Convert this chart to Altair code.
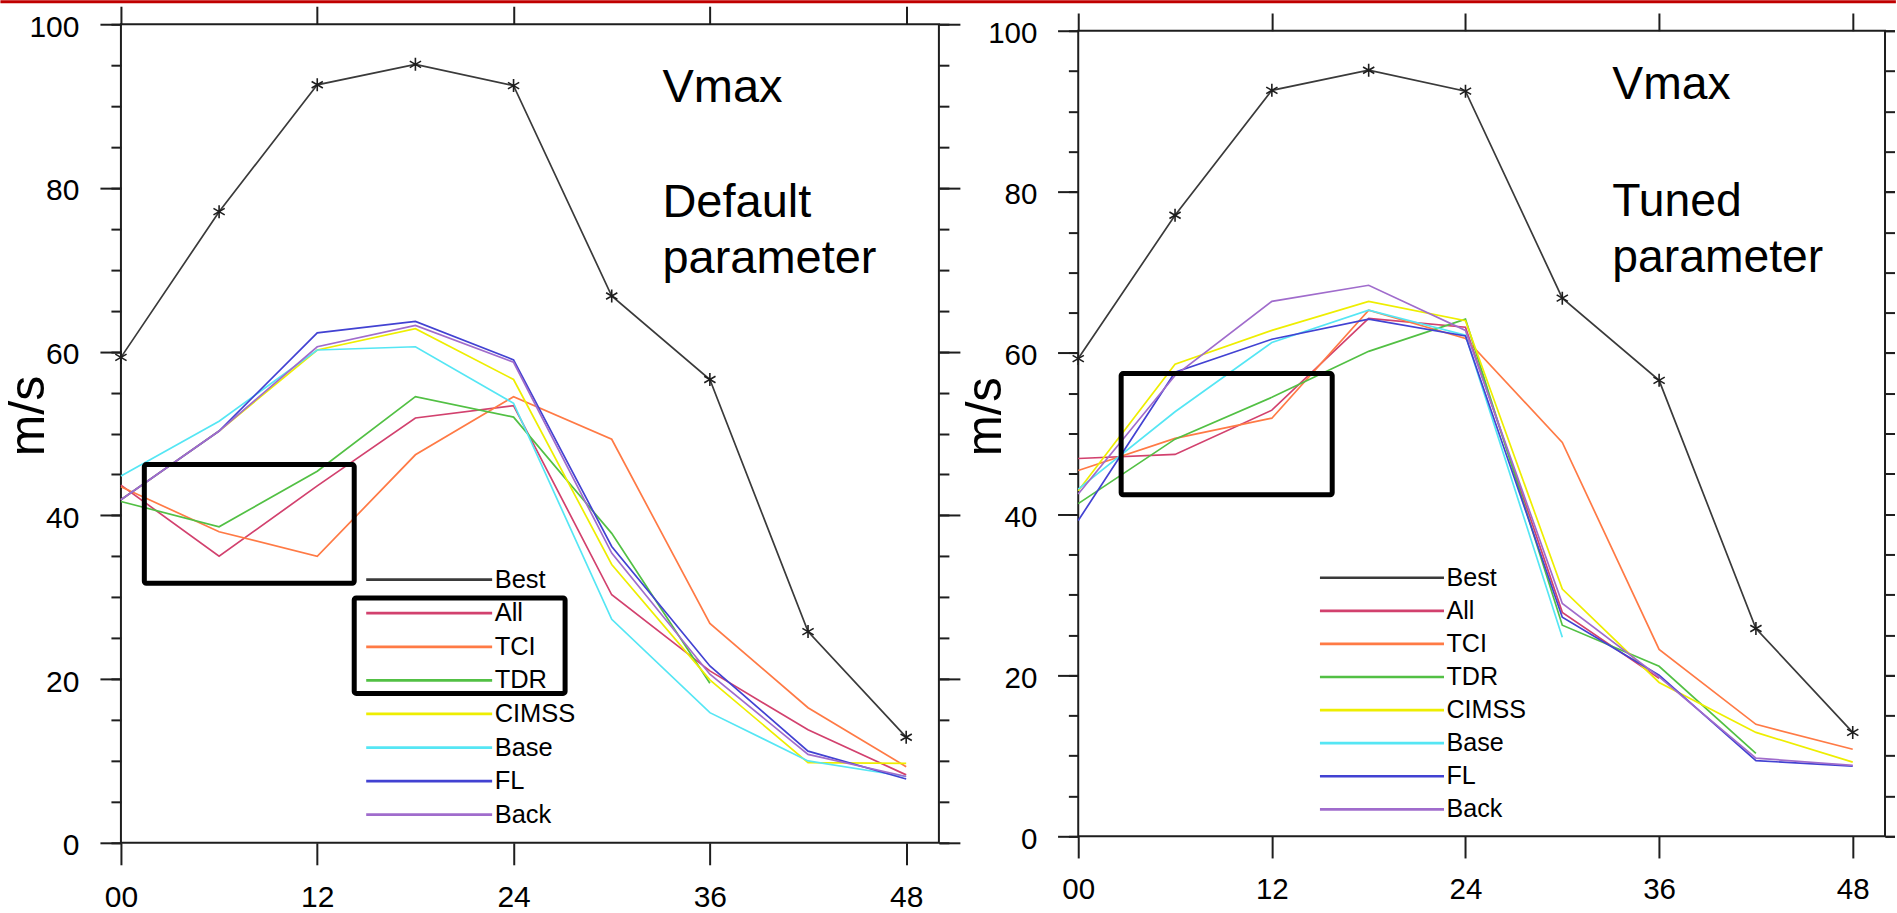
import altair as alt
import pandas as pd

FONT = "Liberation Sans"
INK = "#1e1e1e"
RED = "#c00000"

# Forecast lead times (h) and the runs shown in each panel
HOURS = [0, 6, 12, 18, 24, 30, 36, 42, 48]
SERIES = ["Best", "All", "TCI", "TDR", "CIMSS", "Base", "FL", "Back"]
COLORS = ["#3a3a3a", "#d2416e", "#ff7a45", "#52c044", "#eeee00", "#55e6f4", "#4242d2", "#a06ccc"]
X_TICKS = [0, 12, 24, 36, 48]
Y_MAJOR = [0, 20, 40, 60, 80, 100]
Y_MINOR = list(range(0, 101, 5))

# Best-track maximum wind (m/s)
BEST = [59.3, 77.1, 92.6, 95.1, 92.5, 66.8, 56.6, 25.8, 12.9]

# Default parameter runs (None = no forecast at that lead time)
DEF_ALL = [43.7, 35.0, 43.6, 51.9, 53.4, 30.3, 21.0, 13.8, 8.3]
DEF_TCI = [43.5, 38.0, 35.0, 47.4, 54.5, 49.3, 26.8, 16.5, 9.3]
DEF_TDR = [41.7, 38.6, 45.4, 54.5, 52.0, 37.8, 19.5, None, None]
DEF_CIMSS = [41.9, 50.3, 60.2, 62.8, 56.6, 34.0, 19.9, 9.8, 9.7]
DEF_BASE = [44.8, 51.5, 60.2, 60.6, 53.7, 27.3, 15.9, 10.0, 8.1]
DEF_FL = [41.9, 50.3, 62.3, 63.7, 59.0, 36.2, 21.6, 11.2, 7.8]
DEF_BACK = [41.9, 50.3, 60.6, 63.2, 58.7, 35.4, 20.6, 10.8, 8.1]

# Tuned parameter runs
TUN_ALL = [46.9, 47.4, 52.9, 64.3, 63.2, 27.8, 19.6, None, None]
TUN_TCI = [45.4, 49.4, 51.9, 65.3, 61.8, 48.9, 23.2, 13.9, 10.8]
TUN_TDR = [41.3, 49.3, 54.5, 60.2, 64.2, 26.2, 21.1, 10.3, None]
TUN_CIMSS = [42.9, 58.6, 62.8, 66.4, 64.0, 30.7, 19.1, 12.9, 9.2]
TUN_BASE = [43.1, 52.7, 61.3, 65.3, 62.2, 24.7, None, None, None]
TUN_FL = [39.2, 57.6, 61.7, 64.2, 62.1, 27.2, 20.0, 9.4, 8.7]
TUN_BACK = [42.5, 57.2, 66.4, 68.4, 62.8, 28.9, 19.8, 9.7, 8.8]

# Panel annotations (lead time, wind value of the baseline)
DEF_NOTE_TEXT = ["Vmax", "Default", "parameter"]
DEF_NOTE_Y = [90.5, 76.5, 69.6]
TUN_NOTE_TEXT = ["Vmax", "Tuned", "parameter"]
TUN_NOTE_Y = [91.5, 77.0, 70.0]
NOTE_X = 33.1

# Highlight boxes: hour range and wind range
DEF_BOX_X0 = [1.43, 14.26]
DEF_BOX_X1 = [14.26, 27.15]
DEF_BOX_Y0 = [31.7, 18.25]
DEF_BOX_Y1 = [46.2, 29.9]
TUN_BOX_X0 = [2.66]
TUN_BOX_X1 = [15.74]
TUN_BOX_Y0 = [42.4]
TUN_BOX_Y1 = [57.44]

ASTERISK = "M0,-1V1M-0.866,-0.5L0.866,0.5M-0.866,0.5L0.866,-0.5"


def run_table(columns):
    rows = []
    for name, values in zip(SERIES, columns):
        for h, v in zip(HOURS, values):
            if v is not None:
                rows.append({"hour": h, "vmax": v, "run": name})
    return pd.DataFrame(rows)


def panel(columns, note_text, note_y, bx0, bx1, by0, by1, width, height,
          legend_x, legend_y, row_pad, title_y, right_tick, k):
    runs = run_table(columns)
    best = pd.DataFrame({"hour": HOURS, "vmax": BEST})
    notes = pd.DataFrame({"hour": [NOTE_X] * len(note_text), "vmax": note_y, "label": note_text})
    boxes = pd.DataFrame({"x0": bx0, "x1": bx1, "y0": by0, "y1": by1})

    xs = alt.Scale(domain=[0, 50], nice=False, zero=False)
    ys = alt.Scale(domain=[0, 100], nice=False)
    plain = dict(domain=False, grid=False, tickColor=INK, tickWidth=2, title=None, labels=False)

    x_bottom = alt.Axis(
        orient="bottom", values=X_TICKS, tickSize=22 * k, labelPadding=18,
        labelExpr="datum.value < 10 ? '0' + datum.value : '' + datum.value",
        labelFont=FONT, labelFontSize=30 * k, labelColor="black", labelFlush=False,
        domain=False, grid=False, tickColor=INK, tickWidth=2, title=None,
    )
    x_top = alt.Axis(orient="top", values=X_TICKS, tickSize=18 * k, **plain)
    y_left = alt.Axis(
        orient="left", values=Y_MAJOR, tickSize=21 * k, labelPadding=21 * k, labelOffset=3,
        labelFont=FONT, labelFontSize=30 * k, labelColor="black", labelFlush=False,
        domain=False, grid=False, tickColor=INK, tickWidth=2,
        title="m/s", titleFont=FONT, titleFontSize=50 * k, titleFontWeight="normal",
        titleColor="black", titleAngle=270, titleAlign="center", titleBaseline="alphabetic",
        titleX=-77.3, titleY=title_y,
    )
    y_left_minor = alt.Axis(orient="left", values=Y_MINOR, tickSize=10 * k, **plain)
    y_right = alt.Axis(orient="right", values=Y_MAJOR, tickSize=right_tick, **plain)
    y_right_minor = alt.Axis(orient="right", values=Y_MINOR, tickSize=min(10 * k, right_tick), **plain)

    legend = alt.Legend(
        orient="none", legendX=legend_x, legendY=legend_y, direction="vertical",
        symbolType="stroke", symbolSize=(126 * k) ** 2, symbolStrokeWidth=2.7,
        symbolOpacity=1, clipHeight=26 * k, rowPadding=row_pad,
        labelFont=FONT, labelFontSize=25.5 * k, labelColor="black", labelOffset=1, padding=0,
    )

    lines = alt.Chart(runs).mark_line(strokeWidth=1.7).encode(
        x=alt.X("hour:Q", scale=xs, axis=x_bottom),
        y=alt.Y("vmax:Q", scale=ys, axis=y_left),
        color=alt.Color("run:N", scale=alt.Scale(domain=SERIES, range=COLORS),
                        legend=legend, title=None),
    )
    stars = alt.Chart(best).mark_point(
        shape=ASTERISK, filled=False, size=169, strokeWidth=1.6, color=INK, opacity=1
    ).encode(
        x=alt.X("hour:Q", scale=xs, axis=x_top),
        y=alt.Y("vmax:Q", scale=ys, axis=y_right),
    )
    text = alt.Chart(notes).mark_text(
        align="left", baseline="alphabetic", font=FONT, fontSize=47 * k, color="black"
    ).encode(
        x=alt.X("hour:Q", scale=xs, axis=None),
        y=alt.Y("vmax:Q", scale=ys, axis=y_left_minor),
        text="label:N",
    )
    frames = alt.Chart(boxes).mark_rect(
        fillOpacity=0, stroke="black", strokeWidth=5, cornerRadius=2
    ).encode(
        x=alt.X("x0:Q", scale=xs, axis=None),
        x2="x1:Q",
        y=alt.Y("y0:Q", scale=ys, axis=y_right_minor),
        y2="y1:Q",
    )
    return (
        alt.layer(lines, stars, text, frames)
        .resolve_axis(x="independent", y="independent")
        .properties(width=width, height=height)
    )


LEFT_W, LEFT_H = 818.4, 819
RIGHT_W, RIGHT_H = 807.2, 806
GAP = 138.8

left = panel(
    [BEST, DEF_ALL, DEF_TCI, DEF_TDR, DEF_CIMSS, DEF_BASE, DEF_FL, DEF_BACK],
    DEF_NOTE_TEXT, DEF_NOTE_Y, DEF_BOX_X0, DEF_BOX_X1, DEF_BOX_Y0, DEF_BOX_Y1,
    width=LEFT_W, height=LEFT_H, legend_x=243.9, legend_y=542.7, row_pad=6.6,
    title_y=391.5, right_tick=21, k=1.0,
)
right = panel(
    [BEST, TUN_ALL, TUN_TCI, TUN_TDR, TUN_CIMSS, TUN_BASE, TUN_FL, TUN_BACK],
    TUN_NOTE_TEXT, TUN_NOTE_Y, TUN_BOX_X0, TUN_BOX_X1, TUN_BOX_Y0, TUN_BOX_Y1,
    width=RIGHT_W, height=RIGHT_H, legend_x=240.4, legend_y=534.5, row_pad=7.1,
    title_y=385.7, right_tick=9.5, k=0.985,
)

panels = alt.hconcat(left, right, spacing=GAP, bounds="flush", center=True).resolve_scale(
    color="independent", x="independent", y="independent"
)

# thin red rule across the top of the page
band_start = -120.6
band_end = LEFT_W + GAP + RIGHT_W + 11.5
band = alt.Chart(pd.DataFrame({"band": [0]})).mark_rect(color=RED).encode(
    x=alt.value(band_start), x2=alt.value(band_end), y=alt.value(0), y2=alt.value(3)
).properties(
    width=band_end, height=3,
    view=alt.ViewBackground(stroke="white", strokeWidth=0, strokeOpacity=0),
)

chart = (
    alt.vconcat(band, panels, spacing=1.0)
    .properties(padding={"left": 0, "top": 0, "right": 0, "bottom": -1}, background="white")
    .configure_view(stroke=INK, strokeWidth=2)
)

chart.save("out.html", embed_options={"renderer": "svg", "actions": False})
